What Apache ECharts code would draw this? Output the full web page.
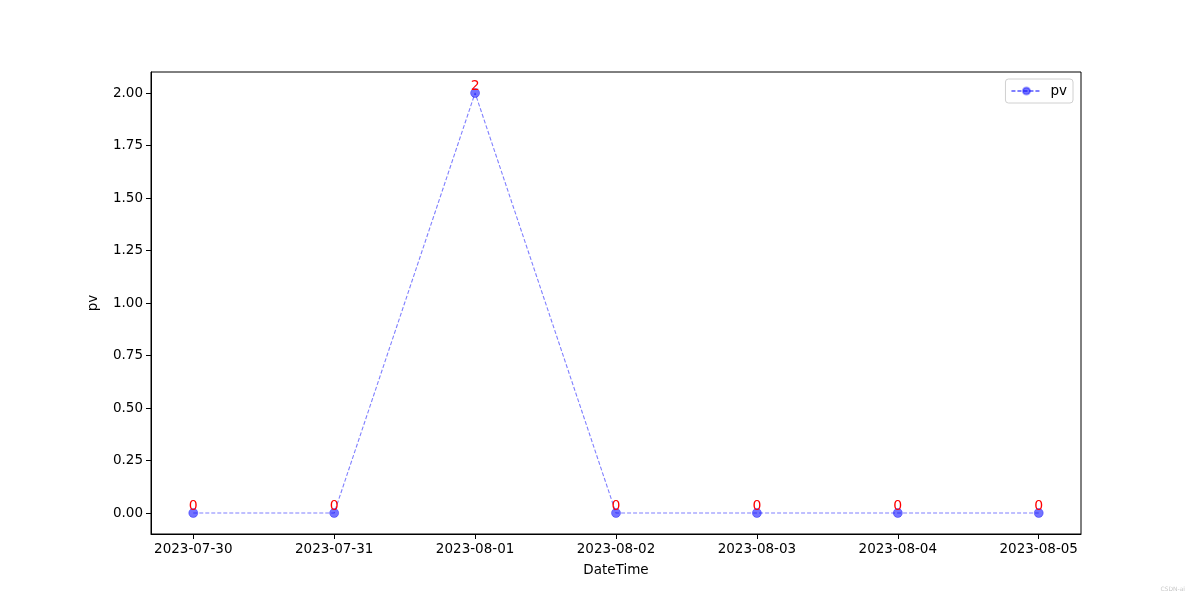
<!DOCTYPE html>
<html><head><meta charset="utf-8">
<script src="https://cdn.jsdelivr.net/npm/echarts@6/dist/echarts.min.js"></script>
<style>html,body{margin:0;padding:0;background:#fff}#c{width:1200px;height:600px}</style>
</head><body><div id="c"></div>
<script>
const dates = ['2023-07-30','2023-07-31','2023-08-01','2023-08-02','2023-08-03','2023-08-04','2023-08-05'];
const pv = [0,0,2,0,0,0,0];
const yTicks = [0,0.25,0.5,0.75,1,1.25,1.5,1.75,2];
const xTicks = dates.map((d,i)=>i);

const font = 'DejaVu Sans';
const chart = echarts.init(document.getElementById('c'), null, {renderer:'canvas'});
chart.setOption({
  animation:false,
  backgroundColor:'#fff',
  textStyle:{fontFamily:font},
  grid:{left:151,right:119,top:72,bottom:66,show:true,borderColor:'#000',borderWidth:1,backgroundColor:'transparent'},
  legend:{
    right:127,top:79,orient:'vertical',
    data:[{name:'pv'}],
    borderColor:'#d0d0d0',borderWidth:1,borderRadius:3,
    padding:[5,6,5,5],itemWidth:30,itemHeight:9,itemGap:10,
    textStyle:{fontFamily:font,fontSize:13.5,color:'#000',padding:[0,0,0,4]}
  },
  xAxis:{
    type:'value',min:-0.3,max:6.3,
    name:'DateTime',nameLocation:'middle',nameGap:29,
    nameTextStyle:{fontFamily:font,fontSize:13.5,color:'#000'},
    axisLine:{show:true,onZero:false,lineStyle:{color:'#000',width:1}},
    axisTick:{show:true,length:5,lineStyle:{color:'#000'},customValues:xTicks},
    axisLabel:{color:'#000',fontFamily:font,fontSize:13.5,margin:8,customValues:xTicks,formatter:v=>dates[Math.round(v)]},
    splitLine:{show:false}
  },
  yAxis:{
    type:'value',min:-0.1,max:2.1,
    name:'pv',nameLocation:'middle',nameGap:51,
    nameTextStyle:{fontFamily:font,fontSize:13.5,color:'#000'},
    axisLine:{show:true,onZero:false,lineStyle:{color:'#000',width:1}},
    axisTick:{show:true,length:5,lineStyle:{color:'#000'},customValues:yTicks},
    axisLabel:{color:'#000',fontFamily:font,fontSize:13.5,margin:8,customValues:yTicks,formatter:v=>v.toFixed(2)},
    splitLine:{show:false}
  },
  series:[{
    name:'pv',type:'line',
    data:pv.map((v,i)=>[i,v]),
    symbol:'circle',symbolSize:9,showSymbol:true,
    lineStyle:{color:'rgba(0,0,255,0.5)',width:1.1,type:[4,2]},
    itemStyle:{color:'rgba(0,0,255,0.55)',borderColor:'rgba(0,0,255,0.35)',borderWidth:1},
    label:{show:true,position:'top',distance:-5,color:'#ff0000',fontFamily:font,fontSize:14,formatter:p=>String(p.value[1])}
  }],
  graphic:[{type:'text',right:15,bottom:8,style:{text:'CSDN-ai',fill:'#c8c8c8',font:'6px '+font}}]
});
</script></body></html>
